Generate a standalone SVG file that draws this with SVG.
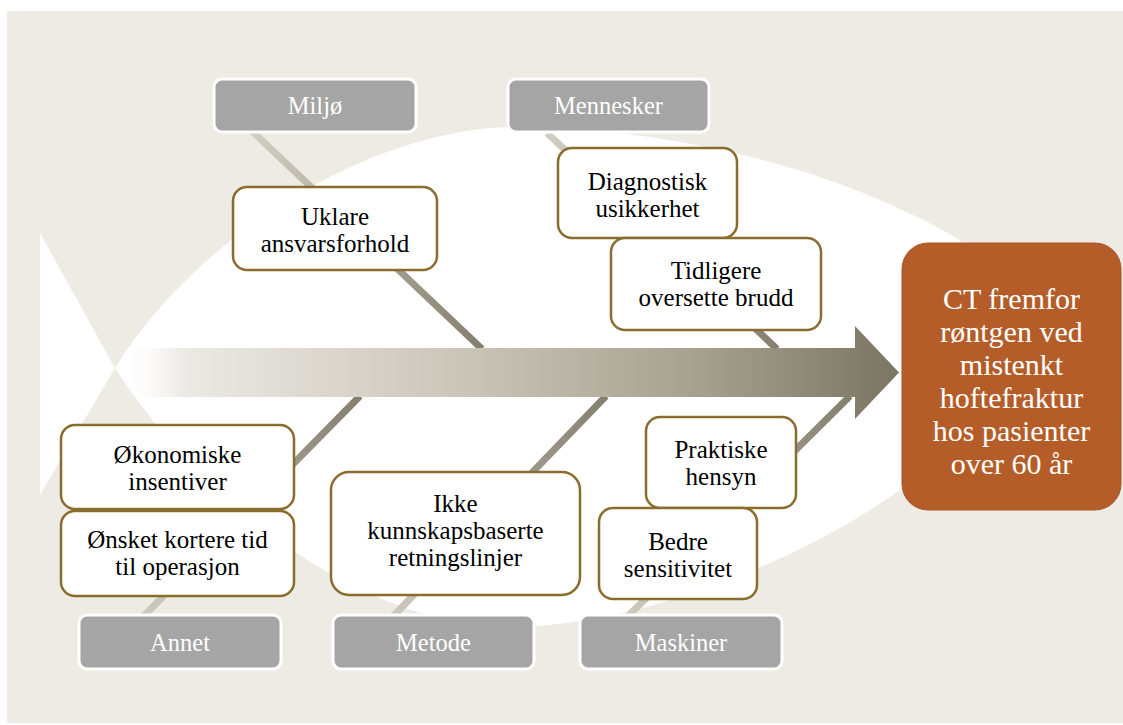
<svg xmlns="http://www.w3.org/2000/svg" width="1123" height="725" viewBox="0 0 1123 725">
  <defs>
    <style>
      text { font-family: "Liberation Serif", "Times New Roman", Times, "DejaVu Serif", serif; }
      .cat rect { fill: #A5A5A5; stroke: #FFFFFF; stroke-width: 3; }
      .cat text { font-size: 24.5px; fill: #FFFFFF; text-anchor: middle; }
      .cause rect { fill: #FFFFFF; stroke: #8A6C2C; stroke-width: 2.5; }
      .cause text { font-size: 25px; fill: #000000; text-anchor: middle; }
      .effect rect { fill: #B55D29; stroke: #A9572A; stroke-width: 1; }
      .effect text { font-size: 30px; fill: #FFFFFF; text-anchor: middle; }
      .bone { stroke-width: 7; stroke-linecap: butt; fill: none; }
      .up { stroke: url(#boneDown); }
      .low { stroke: url(#boneUp); }
    </style>
    <linearGradient id="boneDown" x1="0" y1="0" x2="1" y2="1">
      <stop offset="0" stop-color="#D3CEC3"/>
      <stop offset="1" stop-color="#857F6E"/>
    </linearGradient>
    <linearGradient id="boneUp" x1="0" y1="1" x2="1" y2="0">
      <stop offset="0" stop-color="#D3CEC3"/>
      <stop offset="1" stop-color="#857F6E"/>
    </linearGradient>
    <linearGradient id="spine" gradientUnits="userSpaceOnUse" x1="120" y1="0" x2="900" y2="0">
      <stop offset="0" stop-color="#FFFFFF" stop-opacity="0"/>
      <stop offset="0.08" stop-color="#ECEAE5"/>
      <stop offset="0.45" stop-color="#CAC4B8"/>
      <stop offset="0.75" stop-color="#A59F8E"/>
      <stop offset="1" stop-color="#7A7462"/>
    </linearGradient>
  </defs>

  <!-- background -->
  <rect x="0" y="0" width="1123" height="725" fill="#FFFFFF"/>
  <rect x="7" y="11" width="1116" height="712" fill="#EDEBE4"/>

  <!-- fish silhouette -->
  <g id="fish">
    <polygon points="115,368 40,233 40,495" fill="#FFFFFF"/>
    <path d="M115,368 C200,230 380,125 520,127 C680,129 840,170 960,240 L1010,380 C940,500 700,620 520,627 C360,630 200,500 115,368 Z" fill="#FFFFFF"/>
  </g>

  <!-- connectors: bones and spine -->
  <g id="connectors">
    <line class="bone up" x1="253" y1="132" x2="482" y2="349"/>
    <line class="bone up" x1="547" y1="133" x2="777" y2="349"/>
    <line class="bone low" x1="130" y1="630" x2="360" y2="396"/>
    <line class="bone low" x1="378" y1="632" x2="606" y2="396"/>
    <line class="bone low" x1="612" y1="632" x2="850" y2="396"/>
    <polygon id="spine-arrow" points="125,348 855,348 855,326 899,372.5 855,419 855,397 125,397" fill="url(#spine)"/>
  </g>

  <!-- category boxes -->
  <g id="cat-miljo" class="cat">
    <rect x="214" y="79" width="202" height="53" rx="8"/>
    <text x="315" y="114">Miljø</text>
  </g>
  <g id="cat-mennesker" class="cat">
    <rect x="508" y="79" width="201" height="53" rx="8"/>
    <text x="608.5" y="114">Mennesker</text>
  </g>
  <g id="cat-annet" class="cat">
    <rect x="79" y="615" width="202" height="54" rx="8"/>
    <text x="180" y="651">Annet</text>
  </g>
  <g id="cat-metode" class="cat">
    <rect x="333" y="615" width="201" height="54" rx="8"/>
    <text x="433.5" y="651">Metode</text>
  </g>
  <g id="cat-maskiner" class="cat">
    <rect x="580" y="615" width="202" height="54" rx="8"/>
    <text x="681" y="651">Maskiner</text>
  </g>

  <!-- cause boxes -->
  <g id="cause-uklare" class="cause">
    <rect x="233" y="187" width="204" height="83" rx="14"/>
    <text x="335" y="225">Uklare</text>
    <text x="335" y="252">ansvarsforhold</text>
  </g>
  <g id="cause-diagnostisk" class="cause">
    <rect x="558" y="148" width="179" height="90" rx="14"/>
    <text x="647.5" y="190">Diagnostisk</text>
    <text x="647.5" y="217">usikkerhet</text>
  </g>
  <g id="cause-tidligere" class="cause">
    <rect x="611" y="238" width="210" height="92" rx="14"/>
    <text x="716" y="279">Tidligere</text>
    <text x="716" y="306">oversette brudd</text>
  </g>
  <g id="cause-okonomiske" class="cause">
    <rect x="61" y="425" width="233" height="84" rx="14"/>
    <text x="177.5" y="463">Økonomiske</text>
    <text x="177.5" y="490">insentiver</text>
  </g>
  <g id="cause-onsket" class="cause">
    <rect x="61" y="511" width="233" height="85" rx="14"/>
    <text x="177.5" y="548">Ønsket kortere tid</text>
    <text x="177.5" y="575">til operasjon</text>
  </g>
  <g id="cause-ikke" class="cause">
    <rect x="331" y="472" width="249" height="123" rx="18"/>
    <text x="455.5" y="512">Ikke</text>
    <text x="455.5" y="539">kunnskapsbaserte</text>
    <text x="455.5" y="566">retningslinjer</text>
  </g>
  <g id="cause-praktiske" class="cause">
    <rect x="646" y="417" width="150" height="91" rx="14"/>
    <text x="721" y="458">Praktiske</text>
    <text x="721" y="485">hensyn</text>
  </g>
  <g id="cause-bedre" class="cause">
    <rect x="599" y="508" width="158" height="91" rx="14"/>
    <text x="678" y="550">Bedre</text>
    <text x="678" y="577">sensitivitet</text>
  </g>

  <!-- effect box -->
  <g id="effect" class="effect">
    <rect x="902" y="243" width="219" height="267" rx="26"/>
    <text x="1011.5" y="309">CT fremfor</text>
    <text x="1011.5" y="342">røntgen ved</text>
    <text x="1011.5" y="375">mistenkt</text>
    <text x="1011.5" y="408">hoftefraktur</text>
    <text x="1011.5" y="441">hos pasienter</text>
    <text x="1011.5" y="474">over 60 år</text>
  </g>
</svg>
